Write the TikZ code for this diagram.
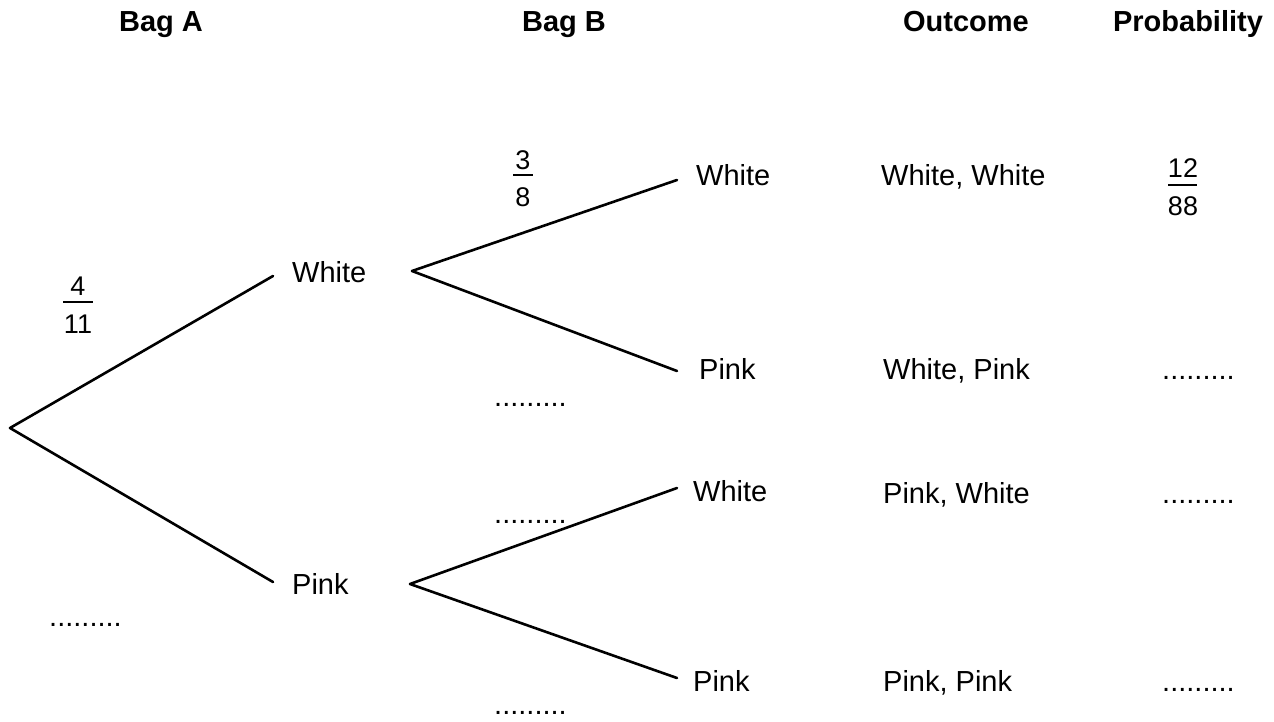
\documentclass[tikz,border=0pt]{standalone}
\usepackage{fontspec}
\setmainfont{Liberation Sans}
\begin{document}
\begin{tikzpicture}[x=1pt,y=-1pt,
  txt/.style={inner sep=0pt, font=\fontsize{29}{34}\selectfont},
  lbl/.style={txt, anchor=base west},
  ctr/.style={inner sep=0pt, anchor=base, font=\fontsize{27}{32}\selectfont},
  hdr/.style={txt, anchor=base, font=\fontsize{29}{34}\selectfont\bfseries},
  branch/.style={line width=2.6pt, line cap=round, line join=round},
  fbar/.style={line width=2.6pt}]
\useasboundingbox (0,0) rectangle (1274,722);
% headings
\node[hdr] (hA) at (161,32) {Bag A};
\node[hdr] (hB) at (564,32) {Bag B};
\node[hdr] (hO) at (966,32) {Outcome};
\node[hdr] (hP) at (1188,32) {Probability};
% branch points
\coordinate (root) at (10,428);
\coordinate (aW) at (273,276);
\coordinate (aP) at (273,582);
\coordinate (bW) at (412,271);
\coordinate (bP) at (410,584);
\coordinate (cWW) at (677,180);
\coordinate (cWP) at (677,371);
\coordinate (cPW) at (677,488);
\coordinate (cPP) at (677,678);
\draw[branch] (aW) -- (root) -- (aP);
\draw[branch] (cWW) -- (bW) -- (cWP);
\draw[branch] (cPW) -- (bP) -- (cPP);
% level labels
\node[lbl] (lW) at (292,282) {White};
\node[lbl] (lP) at (292,594) {Pink};
\node[lbl] (mWW) at (696,186) {White};
\node[lbl] (mWP) at (699,379) {Pink};
\node[lbl] (mPW) at (693,501) {White};
\node[lbl] (mPP) at (693,691) {Pink};
% outcomes
\node[lbl] (oWW) at (881,186) {White, White};
\node[lbl] (oWP) at (883,379) {White, Pink};
\node[lbl] (oPW) at (883,503) {Pink, White};
\node[lbl] (oPP) at (883,691) {Pink, Pink};
% fractions
\node[ctr] (n1) at (78,295) {4};
\node[ctr] (d1) at (78,333) {11};
\draw[fbar] (63,302) -- (93,302);
\node[ctr] (n2) at (523,170) {3};
\node[ctr] (d2) at (523,207) {8};
\draw[fbar] (513,175) -- (533,175);
\node[ctr] (n3) at (1183,178) {12};
\node[ctr] (d3) at (1183,215) {88};
\draw[fbar] (1168,185) -- (1197,185);
% dotted blanks
\node[lbl] (b1) at (49,626) {.........};
\node[lbl] (b2) at (494,406) {.........};
\node[lbl] (b3) at (494,523) {.........};
\node[lbl] (b4) at (494,714) {.........};
\node[lbl] (p2) at (1162,379) {.........};
\node[lbl] (p3) at (1162,503) {.........};
\node[lbl] (p4) at (1162,691) {.........};
\end{tikzpicture}
\end{document}
